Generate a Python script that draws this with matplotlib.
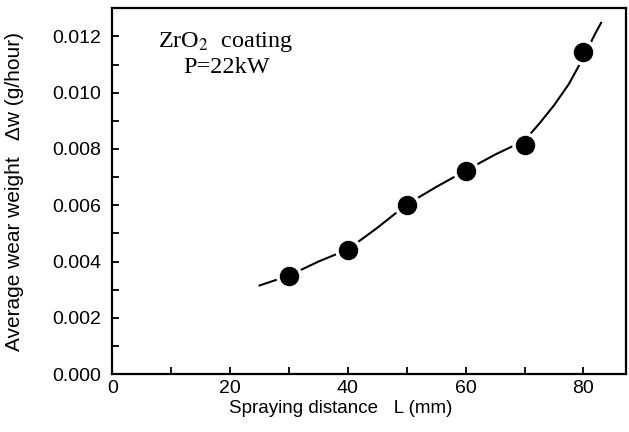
import numpy as np
import matplotlib.pyplot as plt
from matplotlib.ticker import MultipleLocator, FormatStrFormatter

# measured points
distance = [30, 40, 50, 60, 70, 80]
wear = [0.00349, 0.00441, 0.00601, 0.00723, 0.00815, 0.01144]

# fitted curve
curve_x = [25, 30, 35, 40, 45, 50, 55, 60, 65, 70, 72.5, 75, 77.5, 80, 82, 83]
curve_y = [0.00315, 0.0035, 0.0040, 0.00443, 0.0052, 0.00603, 0.00665, 0.00723,
           0.0078, 0.0083, 0.0089, 0.00955, 0.0103, 0.01125, 0.0121, 0.01248]

plt.rcParams['font.family'] = ['Liberation Sans', 'DejaVu Sans']
plt.rcParams['mathtext.fontset'] = 'stix'

fig = plt.figure(figsize=(6.29, 4.32), dpi=100)
ax = fig.add_axes([0.1787, 0.134, 0.8163, 0.847])

ax.plot(curve_x, curve_y, color='black', lw=1.5, zorder=2)
# white halo so the line stops short of the dots
ax.plot(distance, wear, 'o', color='white', markersize=18, zorder=3)
ax.plot(distance, wear, 'o', color='black', markersize=13, zorder=4)

ax.set_xlim(0, 87.2)
ax.set_ylim(0, 0.013)
ax.xaxis.set_major_locator(MultipleLocator(20))
ax.xaxis.set_minor_locator(MultipleLocator(10))
ax.yaxis.set_major_locator(MultipleLocator(0.002))
ax.yaxis.set_minor_locator(MultipleLocator(0.001))
ax.yaxis.set_major_formatter(FormatStrFormatter('%.3f'))

ax.tick_params(which='both', direction='in', length=5, width=1.3, labelsize=14)
ax.tick_params(axis='y', pad=8)
ax.tick_params(axis='x', pad=4)
for s in ax.spines.values():
    s.set_linewidth(1.6)

ax.set_xlabel("Spraying distance   L (mm)", fontsize=13.5)
ax.xaxis.set_label_coords(0.445, -0.072)
ax.set_ylabel("Average wear weight   Δw (g/hour)", fontsize=15)
ax.yaxis.set_label_coords(-0.172, 0.5)

serif = ['Liberation Serif', 'DejaVu Serif']
ax.text(0.221, 0.893, "ZrO$_2$  coating", transform=ax.transAxes, ha='center', va='baseline',
        fontsize=17.5, family=serif)
ax.text(0.222, 0.822, "P=22kW", transform=ax.transAxes, ha='center', va='baseline',
        fontsize=17.5, family=serif)

fig.savefig("out.png", dpi=100)
